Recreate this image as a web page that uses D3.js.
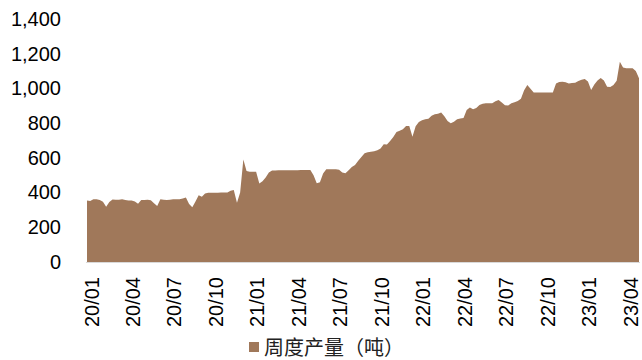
<!DOCTYPE html>
<html>
<head>
<meta charset="utf-8">
<script src="https://cdn.jsdelivr.net/npm/d3@7"></script>
<style>
  html, body { margin: 0; padding: 0; background: #fff; }
  svg { display: block; }
</style>
</head>
<body>
<svg id="chart" width="642" height="360"></svg>
<script>
// Weekly output (tonnes), one value per week from the first week of 2020.
const weeklyOutput = [
  355, 352, 361, 362, 357, 347, 318, 345, 360, 358,
  359, 361, 357, 355, 355, 348, 336, 357, 357, 359,
  356, 338, 322, 361, 359, 357, 359, 361, 361, 361,
  366, 372, 334, 316, 348, 385, 376, 395, 399, 399,
  399, 399, 400, 400, 401, 411, 415, 342, 400, 590,
  525, 520, 520, 520, 452, 465, 487, 515, 527, 527,
  528, 528, 528, 528, 529, 529, 529, 530, 530, 530,
  530, 500, 453, 460, 510, 534, 534, 534, 534, 532,
  516, 512, 528, 547, 559, 583, 605, 627, 632, 635,
  638, 644, 654, 678, 677, 697, 720, 749, 756, 765,
  783, 783, 722, 782, 806, 817, 822, 826, 843, 851,
  854, 861, 840, 813, 800, 808, 822, 827, 830, 876,
  890, 880, 887, 904, 912, 914, 914, 914, 926, 933,
  919, 903, 902, 915, 920, 927, 940, 990, 1020, 998,
  976, 976, 976, 976, 976, 976, 976, 1029, 1037, 1039,
  1036, 1029, 1031, 1033, 1043, 1050, 1055, 1040, 991, 1022,
  1045, 1060, 1045, 1010, 1008, 1020, 1044, 1154, 1120, 1116,
  1116, 1116, 1100, 1058
];

// Quarterly labels, one every 13 weeks.
const quarterLabels = [
  "20/01", "20/04", "20/07", "20/10",
  "21/01", "21/04", "21/07", "21/10",
  "22/01", "22/04", "22/07", "22/10",
  "23/01", "23/04"
];
const weeksPerLabel = 13;

const yTicks = [0, 200, 400, 600, 800, 1000, 1200, 1400];
const seriesName = "周度产量（吨）";

const fill = "#A0785A";
const latinFont = "'Liberation Sans', Arial, sans-serif";
const cjkFont = "'Noto Sans CJK SC', sans-serif";

const svg = d3.select("#chart");

const x = d3.scaleLinear()
  .domain([0, weeklyOutput.length - 1])
  .range([87, 639]);

const y = d3.scaleLinear()
  .domain([0, 1400])
  .range([262, 19]);

// Area
const area = d3.area()
  .x((d, i) => x(i))
  .y0(y(0))
  .y1(d => y(d));

svg.append("path")
  .datum(weeklyOutput)
  .attr("fill", fill)
  .attr("d", area);

// Baseline
svg.append("line")
  .attr("x1", 86).attr("x2", 640)
  .attr("y1", y(0) + 0.5).attr("y2", y(0) + 0.5)
  .attr("stroke", "#d9d9d9")
  .attr("stroke-width", 1);

// Y axis (labels only)
const yAxis = svg.append("g")
  .attr("transform", "translate(61,0)")
  .call(d3.axisLeft(y).tickValues(yTicks).tickFormat(d3.format(",")).tickSize(0).tickPadding(0));
yAxis.select(".domain").remove();
yAxis.selectAll("text")
  .attr("font-family", latinFont)
  .attr("font-size", 20)
  .attr("fill", "#000");

// X axis (rotated quarter labels, set slightly right of each week's tick)
const tickIdx = quarterLabels.map((_, k) => k * weeksPerLabel);
const xAxis = svg.append("g")
  .attr("transform", `translate(0,${y(0)})`)
  .call(d3.axisBottom(x).tickValues(tickIdx)
    .tickFormat(d => quarterLabels[d / weeksPerLabel]).tickSize(0));
xAxis.select(".domain").remove();
xAxis.selectAll("text")
  .attr("transform", "rotate(-90)")
  .attr("text-anchor", "end")
  .attr("x", -15)
  .attr("y", 4)
  .attr("dy", "0.35em")
  .attr("font-family", latinFont)
  .attr("font-size", 20)
  .attr("fill", "#000");

// Legend
const legend = svg.append("g").attr("transform", "translate(249,342)");
legend.append("rect")
  .attr("width", 10).attr("height", 10)
  .attr("fill", fill);
legend.append("text")
  .attr("x", 15).attr("y", 13)
  .attr("font-family", cjkFont)
  .attr("font-size", 20)
  .attr("fill", "#222")
  .text(seriesName);
</script>
</body>
</html>
